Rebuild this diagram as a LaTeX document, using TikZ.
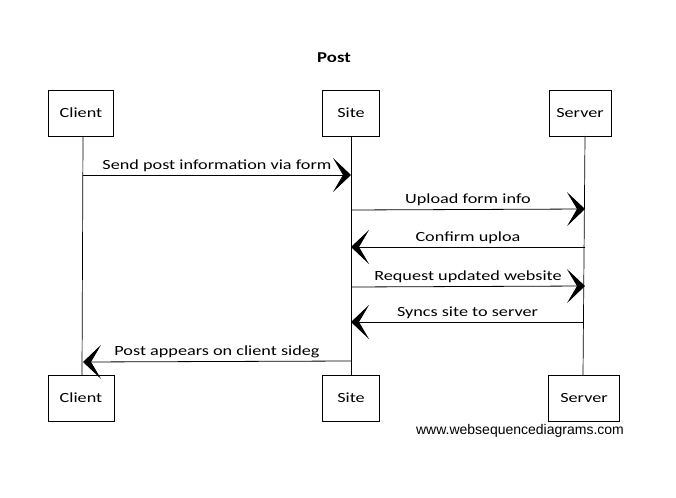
\documentclass[tikz,border=0pt]{standalone}
\usepackage{fontspec}
\setmainfont{Carlito}
\newfontfamily\wmfont{Liberation Sans}
\usetikzlibrary{arrows.meta}
\newcommand{\hw}[1]{\scalebox{1.3}[1]{\fontsize{14}{16}\selectfont #1}}
\tikzset{
  actor/.style={draw, line width=0.8pt, minimum width=64pt, minimum height=46pt, inner sep=0pt},
  life/.style={line width=0.7pt},
  msg/.style={line width=0.8pt, -{Stealth[length=18pt,width=34pt,inset=10pt]}},
  lbl/.style={above=2pt, midway, inner sep=1pt}
}
\begin{document}
\begin{tikzpicture}[x=1pt,y=-1pt]
\useasboundingbox[fill=white] (0,0) rectangle (676,497);
\node[font=\bfseries\fontsize{15}{17}\selectfont] (title) at (334,58) {\scalebox{1.25}[1]{Post}};
% top actors
\node[actor, minimum width=65pt] (ct) at (81,113) {\hw{Client}};
\node[actor, minimum width=57pt] (st) at (351,113) {\hw{Site}};
\node[actor, minimum width=62pt] (vt) at (580,113) {\hw{Server}};
% bottom actors
\node[actor, minimum width=66pt] (cb) at (81,398) {\hw{Client}};
\node[actor, minimum width=57pt] (sb) at (351,398) {\hw{Site}};
\node[actor, minimum width=71pt] (vb) at (584,398) {\hw{Server}};
% lifelines
\coordinate (cl1) at (83,136);
\coordinate (cl2) at (82,375);
\coordinate (sl1) at (351,136);
\coordinate (sl2) at (351,375);
\coordinate (vl1) at (585,136);
\coordinate (vl2) at (583,375);
\draw[life] (cl1) -- (cl2);
\draw[life] (sl1) -- (sl2);
\draw[life] (vl1) -- (vl2);
% message endpoints
\coordinate (c1) at (83,175);  \coordinate (s1) at (351,175);
\coordinate (s2) at (351,210); \coordinate (v2) at (585,209);
\coordinate (v3) at (585,247); \coordinate (s3) at (351,247);
\coordinate (s4) at (351,287); \coordinate (v4) at (585,286);
\coordinate (v5) at (584,322); \coordinate (s5) at (351,322);
\coordinate (s6) at (351,361); \coordinate (c6) at (83,362);
\draw[msg] (c1) -- node[lbl] (m1) {\hw{Send post information via form}} (s1);
\draw[msg] (s2) -- node[lbl] (m2) {\hw{Upload form info}} (v2);
\draw[msg] (v3) -- node[lbl] (m3) {\hw{Confirm uploa}} (s3);
\draw[msg] (s4) -- node[lbl] (m4) {\hw{Request updated website}} (v4);
\draw[msg] (v5) -- node[lbl] (m5) {\hw{Syncs site to server}} (s5);
\draw[msg] (s6) -- node[lbl] (m6) {\hw{Post appears on client sideg}} (c6);
\node[font=\wmfont\fontsize{14}{16}\selectfont] (wm) at (520,431) {www.websequencediagrams.com};
\end{tikzpicture}
\end{document}
